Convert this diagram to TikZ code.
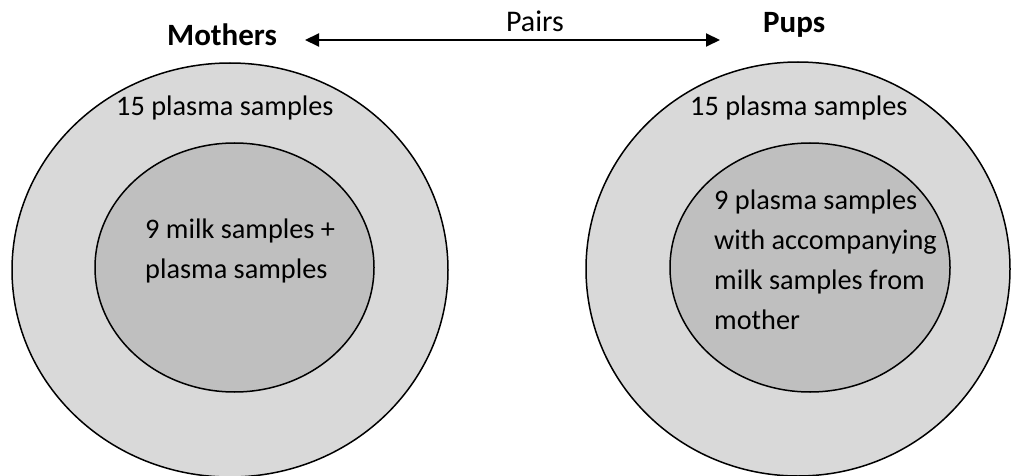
\documentclass[tikz,border=0pt]{standalone}
\usepackage{fontspec}
\setmainfont{Carlito}
\usetikzlibrary{arrows.meta}
\definecolor{ringfill}{HTML}{D9D9D9}
\definecolor{corefill}{HTML}{BFBFBF}
\tikzset{
  ring/.style={draw=black, line width=1.5pt, fill=ringfill},
  core/.style={draw=black, line width=1.5pt, fill=corefill},
  txt/.style={inner sep=0pt, font=\fontsize{28.3}{40}\selectfont},
  head/.style={inner sep=0pt, font=\fontsize{31}{36}\selectfont\bfseries},
  pairarrow/.style={line width=2pt, {Triangle[length=14pt,width=13pt]}-{Triangle[length=14pt,width=13pt]}}
}
\begin{document}
\begin{tikzpicture}[x=1pt, y=-1pt]
  \useasboundingbox (0,0) rectangle (1012,476);

  % sample sets of the mothers
  \path[ring] (230,270) ellipse [x radius=218, y radius=207];
  \path[core] (234.5,267.5) ellipse [x radius=139.5, y radius=124.5];
  % sample sets of the pups
  \path[ring] (798,269) ellipse [x radius=212, y radius=207];
  \path[core] (810,267.5) ellipse [x radius=140, y radius=124.5];

  % headings and pairing arrow
  \node[head, anchor=base west] (mothers) at (167,46) {Mothers};
  \node[head, anchor=base west] (pups) at (763,33) {Pups};
  \coordinate (pairL) at (305,40);
  \coordinate (pairR) at (720,40);
  \draw[pairarrow] (pairL) -- (pairR);
  \node[txt, font=\fontsize{30}{36}\selectfont, anchor=base] (pairs) at (535,32) {Pairs};

  % labels inside the sets
  \node[txt, anchor=base west] (mplasma) at (116,116) {15 plasma samples};
  \node[txt, anchor=base west] (pplasma) at (690,116) {15 plasma samples};
  \node[txt, anchor=base west, align=left] (mmilk) at (145,278)
    {9 milk samples +\\plasma samples};
  \node[txt, anchor=base west, align=left] (pmilk) at (714,329)
    {9 plasma samples\\with accompanying\\milk samples from\\mother};
\end{tikzpicture}
\end{document}
